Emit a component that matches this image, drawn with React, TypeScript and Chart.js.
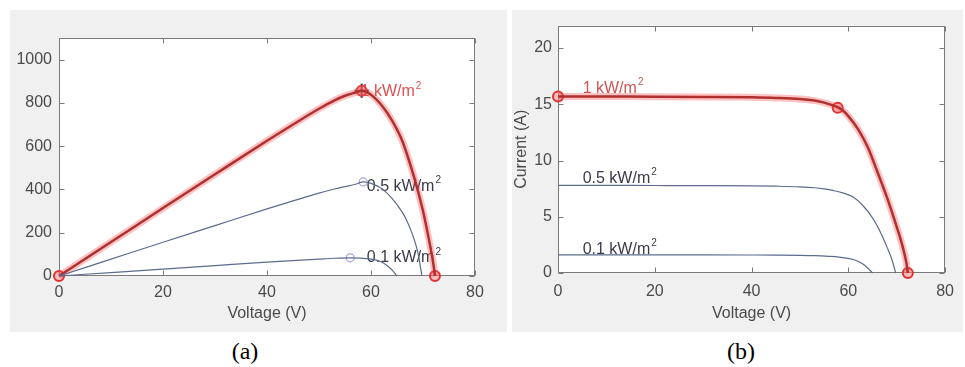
import React, { useEffect, useRef } from "react";
import { Chart, registerables } from "chart.js";
Chart.register(...registerables);

// ---------- data ----------
const X_TICKS = [0, 20, 40, 60, 80];
const P_TICKS = [0, 200, 400, 600, 800, 1000];
const I_TICKS = [0, 5, 10, 15, 20];

// P-V curves (a)
const PV1_V = [0, 10, 20, 30, 40, 45, 50, 53, 55, 57, 58.2, 60, 62, 64, 66, 68, 69, 70, 71, 72, 72.3];
const PV1_P = [0, 157, 314, 470, 625, 700, 773, 812, 833, 848, 856, 838, 790, 720, 625, 480, 395, 300, 185, 55, 0];
const PV05_V = [0, 10, 20, 30, 40, 45, 50, 53, 55, 57, 58.5, 60, 62, 64, 66, 67, 68, 69, 69.8];
const PV05_P = [0, 78, 156, 233, 310, 347, 383, 402, 413, 424, 435, 428, 405, 360, 295, 250, 190, 110, 0];
const PV01_V = [0, 10, 20, 30, 40, 50, 53, 56, 58, 60, 62, 63, 64, 65];
const PV01_P = [0, 16, 32, 48, 64, 78, 82, 84, 83, 78, 65, 50, 29, 0];

// I-V curves (b)
const IV1_V = [0, 10, 20, 30, 40, 45, 50, 53, 55, 57, 58, 59, 60, 62, 64, 66, 68, 70, 71, 72, 72.3];
const IV1_I = [15.7, 15.69, 15.68, 15.66, 15.62, 15.57, 15.47, 15.33, 15.15, 14.88, 14.7, 14.4, 13.95, 12.8, 11.2, 9.0, 6.7, 4.1, 2.7, 0.9, 0];
const IV05_V = [0, 10, 20, 30, 40, 45, 50, 53, 55, 57, 59, 61, 63, 65, 67, 68, 69, 69.8];
const IV05_I = [7.8, 7.79, 7.78, 7.77, 7.75, 7.72, 7.66, 7.58, 7.48, 7.32, 7.1, 6.75, 6.0, 4.9, 3.3, 2.3, 1.2, 0];
const IV01_V = [0, 10, 20, 30, 40, 45, 50, 53, 56, 58, 60, 62, 63, 64, 65];
const IV01_I = [1.62, 1.62, 1.61, 1.61, 1.6, 1.59, 1.57, 1.54, 1.48, 1.42, 1.3, 1.05, 0.8, 0.45, 0];

// markers
const A_RED_V = [0, 72.3];
const A_RED_P = [0, 0];
const A_MPP_V = [58.2];
const A_MPP_P = [856];
const A_SMALL_V = [58.5, 56];
const A_SMALL_P = [435, 84];
const B_RED_V = [0, 57.8, 72.3];
const B_RED_I = [15.7, 14.7, 0];

const LEVELS = ["1 kW/m", "0.5 kW/m", "0.1 kW/m"];

// ---------- helpers ----------
const FAMILY = '"Liberation Sans", Arial, Helvetica, sans-serif';
const TEXT_GRAY = "#4a4a4a";
const pts = (xs: number[], ys: number[]) => xs.map((x, i) => ({ x, y: ys[i] }));

const BLUE = "#5c6b8e";
const RED_CORE = "#8a2424";
const RED_HALO = "rgba(255,70,70,0.33)";

function curve(data: any[], color: string, width: number) {
  return {
    data,
    showLine: true,
    borderColor: color,
    borderWidth: width,
    pointRadius: 0,
    cubicInterpolationMode: "monotone",
    clip: false,
  };
}

function markers(data: any[], opts: any) {
  return { data, showLine: false, clip: false, ...opts };
}

function framePlugin(xTicks: number[], yTicks: number[], labels: any[]) {
  return {
    id: "frame",
    beforeDraw(chart: any) {
      const { ctx, chartArea: a } = chart;
      ctx.save();
      ctx.fillStyle = "#ffffff";
      ctx.fillRect(a.left, a.top, a.right - a.left, a.bottom - a.top);
      ctx.restore();
    },
    beforeDatasetsDraw(chart: any) {
      const { ctx, chartArea: a, scales } = chart;
      const x = scales.x, y = scales.y;
      ctx.save();
      ctx.strokeStyle = "#7a7a7a";
      ctx.lineWidth = 1;
      const L = Math.round(a.left) + 0.5, R = Math.round(a.right) - 0.5;
      const T = Math.round(a.top) + 0.5, B = Math.round(a.bottom) - 0.5;
      ctx.strokeRect(L, T, R - L, B - T);
      ctx.beginPath();
      const tl = 5;
      xTicks.forEach((v) => {
        const px = Math.round(x.getPixelForValue(v)) + 0.5;
        ctx.moveTo(px, B); ctx.lineTo(px, B - tl);
        ctx.moveTo(px, T); ctx.lineTo(px, T + tl);
      });
      yTicks.forEach((v) => {
        const py = Math.round(y.getPixelForValue(v)) + 0.5;
        ctx.moveTo(L, py); ctx.lineTo(L + tl, py);
        ctx.moveTo(R, py); ctx.lineTo(R - tl, py);
      });
      ctx.stroke();
      // level labels
      labels.forEach((lb) => {
        const px = x.getPixelForValue(lb.x);
        const py = y.getPixelForValue(lb.y);
        ctx.fillStyle = lb.color;
        ctx.textBaseline = "middle";
        ctx.textAlign = "left";
        ctx.font = `16px ${FAMILY}`;
        ctx.fillText(lb.text, px, py);
        const w = ctx.measureText(lb.text).width;
        ctx.font = `10px ${FAMILY}`;
        ctx.fillText("2", px + w + 1, py - 6);
      });
      ctx.restore();
    },
  };
}

function axisCfg(min: number, max: number, ticks: number[], fit: (s: any) => void, padding: number, title?: any) {
  return {
    type: "linear",
    min,
    max,
    grid: { display: false, drawTicks: false },
    border: { display: false },
    afterBuildTicks: (s: any) => { s.ticks = ticks.map((v) => ({ value: v })); },
    afterFit: fit,
    ticks: {
      padding,
      color: TEXT_GRAY,
      font: { size: 16, family: FAMILY },
      callback: (v: any) => String(v),
    },
    title: title || { display: false },
  };
}

function makeA(canvas: HTMLCanvasElement) {
  return new Chart(canvas, {
    type: "scatter",
    data: {
      datasets: [
        curve(pts(PV01_V, PV01_P), BLUE, 1.2),
        curve(pts(PV05_V, PV05_P), BLUE, 1.2),
        curve(pts(PV1_V, PV1_P), RED_HALO, 7),
        curve(pts(PV1_V, PV1_P), RED_CORE, 2.5),
        markers(pts(A_SMALL_V, A_SMALL_P), { pointRadius: 4, pointBorderWidth: 1.2, pointBackgroundColor: "rgba(255,255,255,0.6)", pointBorderColor: "#a9a3d9" }),
        markers(pts(A_RED_V, A_RED_P), { pointRadius: 5, pointBorderWidth: 2, pointBackgroundColor: "rgba(255,140,140,0.5)", pointBorderColor: "#e03030" }),
        markers(pts(A_MPP_V, A_MPP_P), { pointRadius: 5, pointBorderWidth: 2, pointBackgroundColor: "rgba(255,140,140,0.5)", pointBorderColor: "#e04040" }),
        markers(pts(A_MPP_V, A_MPP_P), { pointStyle: "cross", pointRadius: 7, pointBorderWidth: 2, pointBorderColor: "#222222" }),
      ] as any,
    },
    options: {
      responsive: false,
      animation: false,
      events: [],
      layout: { padding: { top: 28, right: 32, left: 0, bottom: 0 } },
      plugins: { legend: { display: false }, tooltip: { enabled: false } },
      scales: {
        x: axisCfg(0, 80, X_TICKS, (s) => { s.height = 56; }, 7, {
          display: true, text: "Voltage (V)", color: TEXT_GRAY,
          font: { size: 16, family: FAMILY }, padding: { top: 9, bottom: 9 },
        }),
        y: axisCfg(0, 1100, P_TICKS, (s) => { s.width = 49; }, 7),
      } as any,
    },
    plugins: [framePlugin(X_TICKS, P_TICKS, [
      { text: LEVELS[0], x: 58.0, y: 851, color: "#e05050" },
      { text: LEVELS[1], x: 59.2, y: 414, color: "#3a3a4a" },
      { text: LEVELS[2], x: 59.2, y: 84, color: "#3a3a4a" },
    ])],
  });
}

function makeB(canvas: HTMLCanvasElement) {
  return new Chart(canvas, {
    type: "scatter",
    data: {
      datasets: [
        curve(pts(IV01_V, IV01_I), BLUE, 1.2),
        curve(pts(IV05_V, IV05_I), BLUE, 1.2),
        curve(pts(IV1_V, IV1_I), RED_HALO, 7),
        curve(pts(IV1_V, IV1_I), RED_CORE, 2.5),
        markers(pts(B_RED_V, B_RED_I), { pointRadius: 5, pointBorderWidth: 2, pointBackgroundColor: "rgba(255,140,140,0.5)", pointBorderColor: "#e03030" }),
      ] as any,
    },
    options: {
      responsive: false,
      animation: false,
      events: [],
      layout: { padding: { top: 3, right: 15, left: 0, bottom: 0 } },
      plugins: { legend: { display: false }, tooltip: { enabled: false } },
      scales: {
        x: axisCfg(0, 80, X_TICKS, (s) => { s.height = 59; }, 9, {
          display: true, text: "Voltage (V)", color: TEXT_GRAY,
          font: { size: 16, family: FAMILY }, padding: { top: 9, bottom: 9 },
        }),
        y: axisCfg(0, 22, I_TICKS, (s) => { s.width = 46; }, 6, {
          display: true, text: "Current (A)", color: TEXT_GRAY,
          font: { size: 16, family: FAMILY }, padding: { top: 0, bottom: 0 },
        }),
      } as any,
    },
    plugins: [framePlugin(X_TICKS, I_TICKS, [
      { text: LEVELS[0], x: 5.1, y: 16.4, color: "#d05555" },
      { text: LEVELS[1], x: 5.1, y: 8.4, color: "#3a3a4a" },
      { text: LEVELS[2], x: 5.1, y: 2.1, color: "#3a3a4a" },
    ])],
  });
}

export default function App() {
  const refA = useRef<HTMLCanvasElement>(null);
  const refB = useRef<HTMLCanvasElement>(null);
  useEffect(() => {
    const a = makeA(refA.current!);
    const b = makeB(refB.current!);
    return () => { a.destroy(); b.destroy(); };
  }, []);
  const caption: React.CSSProperties = {
    position: "absolute", top: 336, width: 80, textAlign: "center",
    fontFamily: '"Liberation Serif", "Times New Roman", serif', fontSize: 24, lineHeight: "30px", color: "#000",
  };
  return (
    <div style={{ position: "absolute", left: 0, top: 0, width: 965, height: 367, background: "#fff", overflow: "hidden" }}>
      <div style={{ position: "absolute", left: 10, top: 10, width: 497, height: 322, background: "#f0f0f0" }}>
        <canvas ref={refA} width={497} height={322} style={{ display: "block" }} />
      </div>
      <div style={{ position: "absolute", left: 512, top: 10, width: 451, height: 322, background: "#f0f0f0" }}>
        <canvas ref={refB} width={451} height={322} style={{ display: "block" }} />
      </div>
      <div style={{ ...caption, left: 245 - 40 }}>(a)</div>
      <div style={{ ...caption, left: 741 - 40 }}>(b)</div>
    </div>
  );
}
